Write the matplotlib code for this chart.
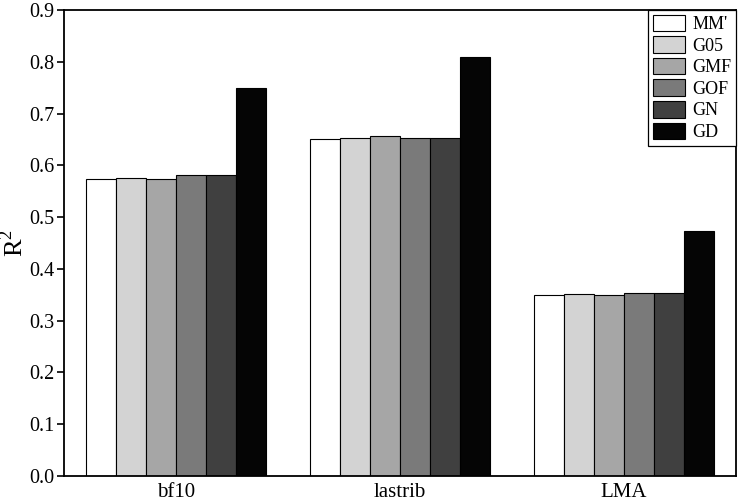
import numpy as np
import matplotlib.pyplot as plt

plt.rcParams['font.family'] = ['Liberation Serif', 'DejaVu Serif']
plt.rcParams['mathtext.fontset'] = 'custom'
plt.rcParams['mathtext.rm'] = 'Liberation Serif'

groups = ["bf10", "lastrib", "LMA"]
methods = ["MM'", "G05", "GMF", "GOF", "GN", "GD"]

# R^2 per method, one value per group
mm = [0.573, 0.651, 0.349]
g05 = [0.575, 0.652, 0.351]
gmf = [0.573, 0.656, 0.350]
gof = [0.581, 0.652, 0.354]
gn = [0.581, 0.652, 0.354]
gd = [0.750, 0.810, 0.474]

series = [mm, g05, gmf, gof, gn, gd]
colors = ["#ffffff", "#d3d3d3", "#a6a6a6", "#7a7a7a", "#404040", "#050505"]

fig = plt.figure(figsize=(7.4, 5.03), dpi=100)
ax = fig.add_axes([0.0865, 0.0537, 0.9081, 0.9264])

x = np.arange(len(groups))
w = 0.1335
for i, (vals, c, lab) in enumerate(zip(series, colors, methods)):
    ax.bar(x + (i - 2.5) * w, vals, w, color=c, edgecolor="black",
           linewidth=0.8, label=lab)

ax.set_xlim(-0.5, 2.5)
ax.set_ylim(0, 0.9)
ticks = np.arange(0, 0.91, 0.1)
ax.set_yticks(ticks)
ax.set_yticklabels([f"{v:.1f}" for v in ticks])
ax.set_xticks(x)
ax.set_xticklabels(groups)
ax.tick_params(axis="x", length=0, labelsize=15, pad=5)
ax.tick_params(axis="y", direction="out", length=5, width=1.2,
               labelsize=14.5, pad=2)
ax.set_ylabel(r"R$^{\mathrm{2}}$", fontsize=19)
ax.yaxis.set_label_coords(-0.053, 0.5)
for s in ax.spines.values():
    s.set_linewidth(1.3)

leg = ax.legend(loc="upper right", borderaxespad=0, fontsize=13,
                fancybox=False, handlelength=1.78, handleheight=1.05,
                labelspacing=0.17, handletextpad=0.4, borderpad=0.25,
                framealpha=1)
leg.get_frame().set_edgecolor("black")
leg.get_frame().set_linewidth(0.9)

fig.savefig("out.png", dpi=100)
